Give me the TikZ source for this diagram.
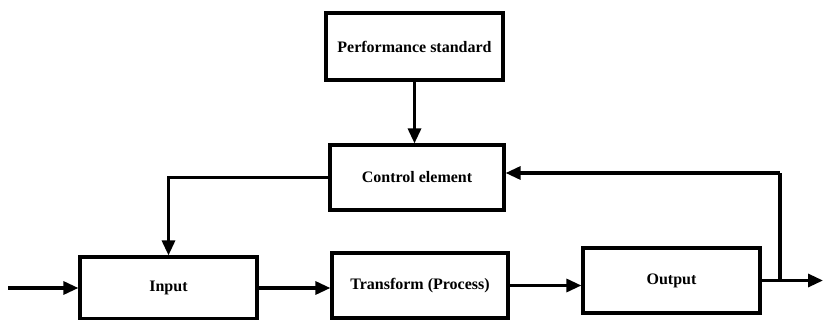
\documentclass[tikz,border=0pt]{standalone}
\usepackage{fontspec}
\setmainfont{Liberation Serif}
\usetikzlibrary{arrows.meta}
\begin{document}
\begin{tikzpicture}[x=1pt,y=-1pt,
  blockbox/.style={draw, line width=3.2pt, minimum width=#1, minimum height=64pt,
    inner sep=0pt, font=\fontsize{16}{18}\selectfont\bfseries},
  flow/.style={line width=3.2pt, -{Triangle[length=15pt,width=13pt]}},
  plain/.style={line width=3.2pt}]
  \useasboundingbox (0,0) rectangle (824,320);

  % blocks
  \node[blockbox=177pt, minimum height=67pt] (perf) at (414.5,46.5) {Performance standard};
  \node[blockbox=174pt, minimum height=65pt] (ctrl) at (417,177.5) {Control element};
  \node[blockbox=177pt, minimum height=62pt] (in)   at (168.5,288) {Input};
  \node[blockbox=176pt, minimum height=65pt] (tr)   at (420,285.5) {Transform (Process)};
  \node[blockbox=177pt, minimum height=65pt] (out)  at (671.5,280.5) {Output};

  % free ends of the main line
  \coordinate (src) at (8,288);
  \coordinate (snk) at (823,280.5);
  \coordinate (tap) at (780,280.5);

  % standard to controller
  \draw[flow] (perf.south) -- (perf.south |- ctrl.north);
  % controller to input
  \draw[flow] (ctrl.west) -| (in.north);
  % main process chain
  \draw[flow] (src) -- (in.west);
  \draw[flow] (in.east) -- (in.east -| tr.west);
  \draw[flow] (tr.east) -- (tr.east -| out.west);
  \draw[flow] (out.east) -- (snk);
  % feedback from output to controller
  \draw[plain] (tap) -- ++(0,-107.5) coordinate (fbtop);
  \draw[flow] (fbtop) -- (fbtop -| ctrl.east);
\end{tikzpicture}
\end{document}
